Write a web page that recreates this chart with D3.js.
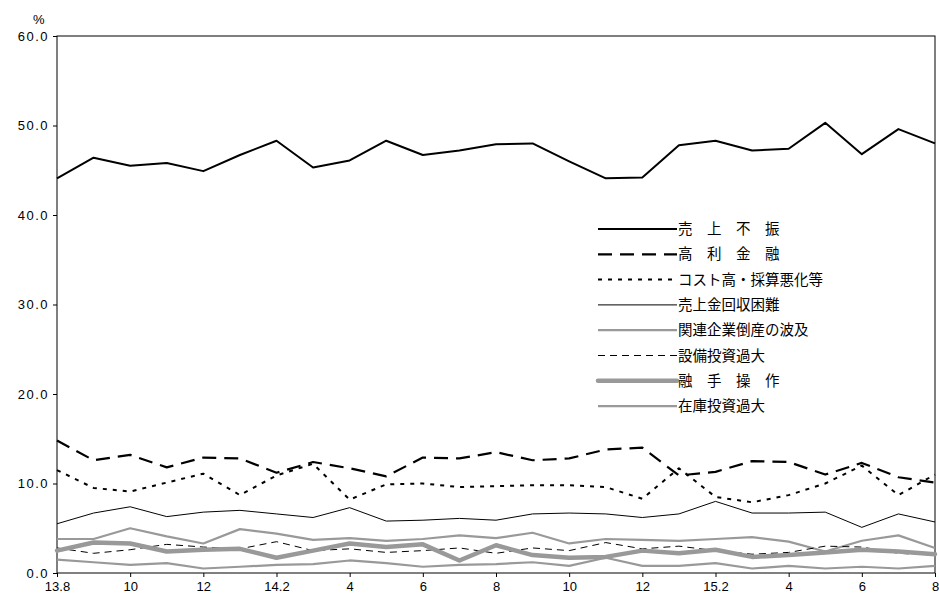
<!DOCTYPE html>
<html><head><meta charset="utf-8">
<script src="https://cdn.jsdelivr.net/npm/d3@7"></script>
<style>body{margin:0;background:#fff}text{font-family:"Liberation Sans","Noto Sans CJK JP",sans-serif}</style>
</head><body><svg id="c" width="939" height="606"></svg>
<script>
const xLabels=["13.8","9","10","11","12","14.1","14.2","3","4","5","6","7","8","9","10","11","12","15.1","15.2","3","4","5","6","7","8"];
const shownTicks=[0,2,4,6,8,10,12,14,16,18,20,22,24];
const tickText=["13.8","10","12","14.2","4","6","8","10","12","15.2","4","6","8"];
const yTicks=[0,10,20,30,40,50,60];
const uriage=[44.1,46.4,45.5,45.8,44.9,46.7,48.3,45.3,46.1,48.3,46.7,47.2,47.9,48.0,46.0,44.1,44.2,47.8,48.3,47.2,47.4,50.3,46.8,49.6,48.0];
const kouri=[14.8,12.6,13.2,11.8,12.9,12.8,11.2,12.4,11.7,10.8,12.9,12.8,13.5,12.6,12.8,13.8,14.0,10.9,11.3,12.5,12.4,11.0,12.3,10.7,10.1];
const cost=[11.5,9.5,9.1,10.1,11.1,8.7,10.9,12.2,8.2,9.9,10.0,9.6,9.7,9.8,9.8,9.6,8.3,11.7,8.5,7.9,8.7,10.0,12.0,8.7,11.0];
const kaishu=[5.5,6.7,7.4,6.3,6.8,7.0,6.6,6.2,7.3,5.8,5.9,6.1,5.9,6.6,6.7,6.6,6.2,6.6,8.0,6.7,6.7,6.8,5.1,6.6,5.7];
const kanren=[3.8,3.8,5.0,4.1,3.3,4.9,4.4,3.7,3.9,3.6,3.8,4.2,3.9,4.5,3.3,3.8,3.7,3.6,3.8,4.0,3.5,2.4,3.6,4.2,2.8];
const setsubi=[2.8,2.2,2.6,3.2,2.9,2.7,3.5,2.5,2.7,2.3,2.5,2.8,2.2,2.8,2.5,3.4,2.7,3.0,2.5,2.1,2.3,3.0,2.9,2.2,2.0];
const yuushu=[2.5,3.4,3.3,2.4,2.6,2.7,1.7,2.5,3.3,2.9,3.2,1.4,3.1,2.0,1.7,1.8,2.5,2.2,2.6,1.8,2.0,2.3,2.6,2.4,2.1];
const zaiko=[1.5,1.2,0.9,1.1,0.5,0.7,0.9,1.0,1.4,1.1,0.7,0.9,1.0,1.2,0.8,1.7,0.8,0.8,1.1,0.5,0.8,0.5,0.7,0.5,0.8];
const names=["売\u3000上\u3000不\u3000振","高\u3000利\u3000金\u3000融","コスト高・採算悪化等","売上金回収困難","関連企業倒産の波及","設備投資過大","融\u3000手\u3000操\u3000作","在庫投資過大"];
const data=[uriage,kouri,cost,kaishu,kanren,setsubi,yuushu,zaiko];
const styles=[
 {c:"#000",w:2,d:null},{c:"#000",w:2.2,d:"14,8"},{c:"#000",w:2,d:"4,6"},{c:"#000",w:1,d:null},
 {c:"#999",w:2.2,d:null},{c:"#000",w:1,d:"7,5"},{c:"#999",w:4.5,d:null},{c:"#999",w:2.2,d:null}];
const svg=d3.select("#c");
const L=57,R=935,T=36,B=573;
const x=d3.scaleLinear().domain([0,24]).range([L,R]);
const y=d3.scaleLinear().domain([0,60]).range([B,T]);
svg.append("rect").attr("x",L).attr("y",T).attr("width",R-L).attr("height",B-T).attr("fill","none").attr("stroke","#000");
const ya=svg.append("g").attr("transform",`translate(${L},0)`).call(d3.axisLeft(y).tickValues(yTicks).tickFormat(d3.format(".1f")).tickSize(4));
ya.select(".domain").remove();
ya.selectAll("text").attr("font-size",13).attr("letter-spacing","1.5px").attr("dx",-1);
const xa=svg.append("g").attr("transform",`translate(0,${B})`).call(d3.axisBottom(x).tickValues(shownTicks).tickFormat((d,i)=>tickText[i]).tickSize(4));
xa.select(".domain").remove();
xa.selectAll("text").attr("font-size",13).attr("dy","0.85em");
svg.append("text").attr("x",33).attr("y",24).attr("font-size",13).text("%");
const line=d3.line().x((d,i)=>x(i)).y(d=>y(d));
data.forEach((s,k)=>{
 const st=styles[k];
 svg.append("path").datum(s).attr("d",line).attr("fill","none").attr("stroke",st.c).attr("stroke-width",st.w).attr("stroke-dasharray",st.d).attr("stroke-linejoin","round").attr("stroke-linecap",st.w>4?"round":"butt");
});
const lg=svg.append("g");
names.forEach((n,k)=>{
 const st=styles[k],yy=229+k*25.3;
 lg.append("line").attr("x1",598).attr("x2",677).attr("y1",yy).attr("y2",yy).attr("stroke",st.c).attr("stroke-width",st.w).attr("stroke-dasharray",st.d).attr("stroke-linecap",st.w>4?"round":"butt");
 lg.append("text").attr("x",678).attr("y",yy+5).attr("font-size",14.5).text(n);
});
</script></body></html>
